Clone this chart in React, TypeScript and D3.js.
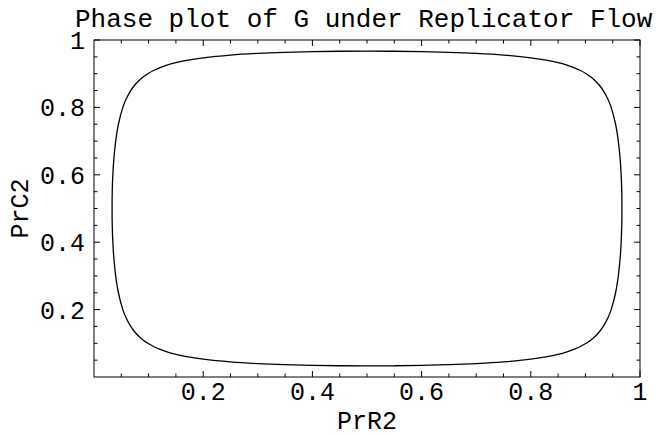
import * as d3 from 'd3';
import { useEffect, useRef } from 'react';

// orbit points (PrR2, PrC2), counter-clockwise from bottom middle
const orbitX = [
  0.5, 0.55, 0.6, 0.65, 0.7, 0.75, 0.8, 0.825, 0.85, 0.865, 0.88, 0.89, 0.9007, 0.9102, 0.9174, 0.926, 0.9327,
  0.9411, 0.9472, 0.9553, 0.9603, 0.9635, 0.9655, 0.9666, 0.9669,
  0.9666, 0.9655, 0.9635, 0.9603, 0.9553, 0.9472, 0.9411, 0.9327, 0.926, 0.9174, 0.9102, 0.9007, 0.89, 0.88,
  0.865, 0.85, 0.825, 0.8, 0.75, 0.7, 0.65, 0.6, 0.55, 0.5,
  0.45, 0.4, 0.35, 0.3, 0.25, 0.2, 0.175, 0.15, 0.135, 0.12, 0.11, 0.0993, 0.0898, 0.0826, 0.074, 0.0673,
  0.0589, 0.0528, 0.0447, 0.0397, 0.0365, 0.0345, 0.0334, 0.0331,
  0.0334, 0.0345, 0.0365, 0.0397, 0.0447, 0.0528, 0.0589, 0.0673, 0.074, 0.0826, 0.0898, 0.0993, 0.11, 0.12,
  0.135, 0.15, 0.175, 0.2, 0.25, 0.3, 0.35, 0.4, 0.45,
];
const orbitY = [
  0.0331, 0.0334, 0.0345, 0.0365, 0.0397, 0.0447, 0.0528, 0.0589, 0.0673, 0.074, 0.0826, 0.0898, 0.0993, 0.11,
  0.12, 0.135, 0.15, 0.175, 0.2, 0.25, 0.3, 0.35, 0.4, 0.45, 0.5,
  0.55, 0.6, 0.65, 0.7, 0.75, 0.8, 0.825, 0.85, 0.865, 0.88, 0.89, 0.9007, 0.9102, 0.9174, 0.926, 0.9327,
  0.9411, 0.9472, 0.9553, 0.9603, 0.9635, 0.9655, 0.9666, 0.9669,
  0.9666, 0.9655, 0.9635, 0.9603, 0.9553, 0.9472, 0.9411, 0.9327, 0.926, 0.9174, 0.9102, 0.9007, 0.89, 0.88,
  0.865, 0.85, 0.825, 0.8, 0.75, 0.7, 0.65, 0.6, 0.55, 0.5,
  0.45, 0.4, 0.35, 0.3, 0.25, 0.2, 0.175, 0.15, 0.135, 0.12, 0.11, 0.0993, 0.0898, 0.0826, 0.074, 0.0673,
  0.0589, 0.0528, 0.0447, 0.0397, 0.0365, 0.0345, 0.0334,
];

const majorTicks = [0.2, 0.4, 0.6, 0.8, 1];
const tickLabels = ['0.2', '0.4', '0.6', '0.8', '1'];
const minorTicks = [0.05, 0.1, 0.15, 0.25, 0.3, 0.35, 0.45, 0.5, 0.55, 0.65, 0.7, 0.75, 0.85, 0.9, 0.95];

const title = 'Phase plot of G under Replicator Flow';
const xLabel = 'PrR2';
const yLabel = 'PrC2';

const width = 663;
const height = 435;
const font = "'Courier New', 'Liberation Mono', monospace";

export default function App() {
  const svgRef = useRef<SVGSVGElement>(null);

  useEffect(() => {
    if (!svgRef.current) return;
    const svg = d3.select(svgRef.current);
    svg.selectAll('*').remove();

    const margin = { top: 40, right: 23, bottom: 58, left: 94 };
    const x = d3.scaleLinear().domain([0, 1]).range([margin.left, width - margin.right]);
    const y = d3.scaleLinear().domain([0, 1]).range([height - margin.bottom, margin.top]);
    const [x0, x1] = x.range();
    const [y0, y1] = y.range();

    svg
      .append('rect')
      .attr('x', x0)
      .attr('y', y1)
      .attr('width', x1 - x0)
      .attr('height', y0 - y1)
      .attr('fill', 'none')
      .attr('stroke', '#000')
      .attr('stroke-width', 1);

    const ticks = svg.append('g').attr('stroke', '#000').attr('stroke-width', 1);
    const addTicks = (vals: number[], len: number) => {
      vals.forEach((v) => {
        const px = x(v);
        const py = y(v);
        ticks.append('line').attr('x1', px).attr('x2', px).attr('y1', y0).attr('y2', y0 - len);
        ticks.append('line').attr('x1', px).attr('x2', px).attr('y1', y1).attr('y2', y1 + len);
        ticks.append('line').attr('y1', py).attr('y2', py).attr('x1', x0).attr('x2', x0 + len);
        ticks.append('line').attr('y1', py).attr('y2', py).attr('x1', x1).attr('x2', x1 - len);
      });
    };
    addTicks(majorTicks, 6);
    addTicks(minorTicks, 3.5);

    const labels = svg.append('g').attr('font-family', font).attr('font-size', 25).attr('fill', '#000');
    majorTicks.forEach((v, i) => {
      labels
        .append('text')
        .attr('x', x(v))
        .attr('y', y0 + 23)
        .attr('text-anchor', 'middle')
        .text(tickLabels[i]);
      labels
        .append('text')
        .attr('x', x0 - 9)
        .attr('y', y(v) + 9)
        .attr('text-anchor', 'end')
        .text(tickLabels[i]);
    });

    svg
      .append('text')
      .attr('x', 75)
      .attr('y', 27)
      .attr('font-family', font)
      .attr('font-size', 26)
      .text(title);

    svg
      .append('text')
      .attr('x', (x0 + x1) / 2)
      .attr('y', 429)
      .attr('text-anchor', 'middle')
      .attr('font-family', font)
      .attr('font-size', 25)
      .text(xLabel);

    svg
      .append('text')
      .attr('transform', `translate(28,${(y0 + y1) / 2}) rotate(-90)`)
      .attr('text-anchor', 'middle')
      .attr('font-family', font)
      .attr('font-size', 25)
      .text(yLabel);

    const pts: [number, number][] = orbitX.map((v, i) => [v, orbitY[i]]);
    const line = d3
      .line<[number, number]>()
      .x((d) => x(d[0]))
      .y((d) => y(d[1]))
      .curve(d3.curveCatmullRomClosed);

    svg
      .append('path')
      .datum(pts)
      .attr('fill', 'none')
      .attr('stroke', '#000')
      .attr('stroke-width', 1.3)
      .attr('d', line);
  }, []);

  return (
    <svg
      ref={svgRef}
      width={width}
      height={height}
      style={{ position: 'absolute', left: 0, top: 0, background: '#fff' }}
    />
  );
}
